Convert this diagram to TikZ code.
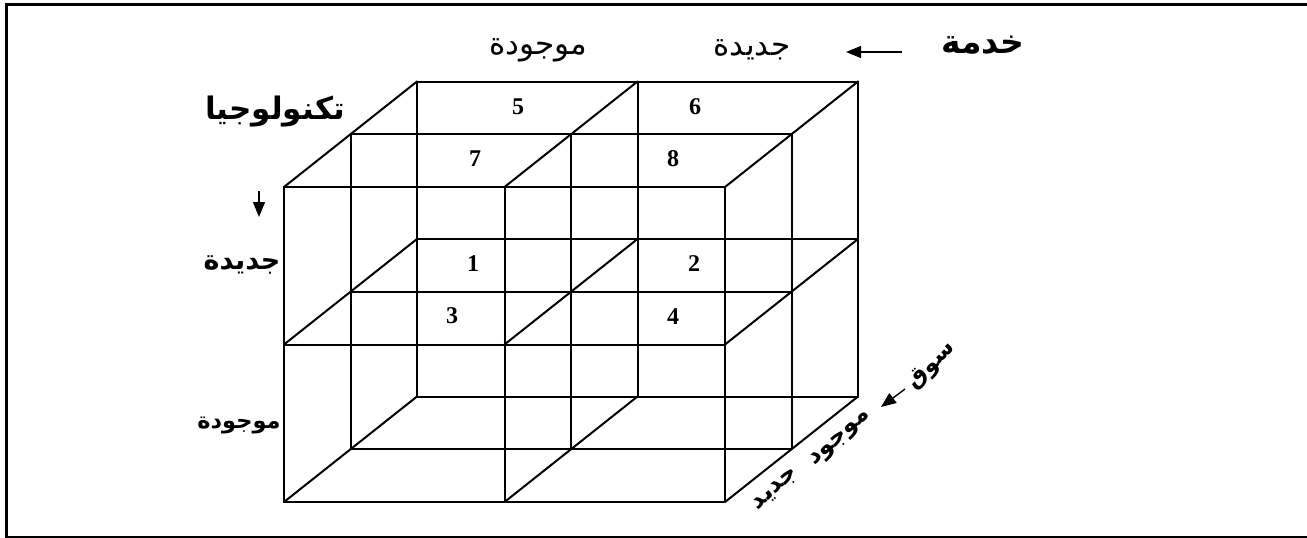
\documentclass[tikz,border=0pt]{standalone}
\usepackage{fontspec}
\usetikzlibrary{arrows.meta}
\TeXXeTstate=1
\newfontfamily\arabicfont[Script=Arabic]{DejaVu Sans}
\newfontfamily\digfont{Liberation Serif}
\tikzset{
  grid/.style={line width=2pt, line cap=round, line join=round},
  frameline/.style={line width=3pt},
  arr/.style={line width=1.4pt, -{Triangle[length=15pt,width=12pt]}},
  artxt/.style={inner sep=0pt, font=\arabicfont\fontsize{31}{34}\selectfont},
  arbold/.style={inner sep=0pt, font=\arabicfont\bfseries\fontsize{30}{34}\selectfont},
  num/.style={inner sep=0pt, font=\digfont\bfseries\fontsize{24}{26}\selectfont}
}
\begin{document}
\begin{tikzpicture}[x=1pt,y=-1pt]
\useasboundingbox (0,0) rectangle (1307,538);
% frame
\coordinate (ftr) at (1312,4);
\coordinate (ftl) at (6,4);
\coordinate (fbl) at (6,537);
\coordinate (fbr) at (1312,537);
\draw[frameline] (ftr) -- (ftl) -- (fbl) -- (fbr);
% lattice
\foreach \i in {0,1,2} \foreach \j in {0,1,2} \foreach \k in {0,1,2}
  \coordinate (p\i\j\k) at ({284+220.5*\i+66.5*\k},{187+157.5*\j-52.75*\k});
\foreach \a in {0,1,2} \foreach \b in {0,1,2} {
  \draw[grid] (p0\a\b) -- (p2\a\b);
  \draw[grid] (p\a0\b) -- (p\a2\b);
  \draw[grid] (p\a\b0) -- (p\a\b2);
}
% numbers
\node[num] (n5) at (518,107) {5};
\node[num] (n6) at (695,107) {6};
\node[num] (n7) at (475,159) {7};
\node[num] (n8) at (673,159) {8};
\node[num] (n1) at (473,264) {1};
\node[num] (n2) at (694,264) {2};
\node[num] (n3) at (452,316) {3};
\node[num] (n4) at (673,317) {4};
% top labels
\node[artxt] (topold) at (538,50) {\beginR موجودة\endR};
\node[artxt] (topnew) at (752,50) {\beginR جديدة\endR};
\node[arbold, font=\arabicfont\bfseries\fontsize{33}{36}\selectfont] (service) at (983,45) {\beginR خدمة\endR};
\coordinate (sa) at (902,52);
\coordinate (sb) at (846,52);
\draw[arr] (sa) -- (sb);
% left labels
\node[arbold, font=\arabicfont\bfseries\fontsize{31}{34}\selectfont] (tech) at (275,112) {\beginR تكنولوجيا\endR};
\coordinate (ta) at (259,191);
\coordinate (tb) at (259,217);
\draw[arr] (ta) -- (tb);
\node[arbold, font=\arabicfont\bfseries\fontsize{27}{30}\selectfont] (lnew) at (242,265) {\beginR جديدة\endR};
\node[arbold, font=\arabicfont\bfseries\fontsize{22.5}{26}\selectfont] (lold) at (239,425) {\beginR موجودة\endR};
% market labels
\node[arbold, font=\arabicfont\bfseries\fontsize{24}{28}\selectfont, rotate=42] (mold) at (841,439) {\beginR موجود\endR};
\node[arbold, font=\arabicfont\bfseries\fontsize{24}{28}\selectfont, rotate=42] (mnew) at (776,490) {\beginR جديد\endR};
\node[arbold, font=\arabicfont\bfseries\fontsize{23}{26}\selectfont, rotate=45] (souq) at (932,366) {\beginR سوق\endR};
\coordinate (ma) at (905,389);
\coordinate (mb) at (881,407);
\draw[arr] (ma) -- (mb);
\end{tikzpicture}
\end{document}
